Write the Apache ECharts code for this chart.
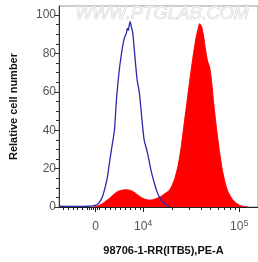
<!DOCTYPE html>
<html>
<head>
    <meta charset="utf-8">
    <script src="https://cdn.jsdelivr.net/npm/echarts@6.0.0/dist/echarts.min.js"></script>
    <style>
        html, body { margin: 0; padding: 0; background: #fff; }
        #main { width: 258px; height: 262px; }
    </style>
</head>
<body>
<div id="main"></div>
<script>
    // x is in display (logicle-like) units: 10^4 -> 4, 10^5 -> 5
    var xMin = 3.124, xMax = 5.195;
    var majorTicks = [3.505, 4, 5];
    var majorNames = ['0', '10^4', '10^5'];
    var minorTicks = [3.165, 3.216, 3.268, 3.309, 3.361, 3.423, 3.443, 3.464, 3.485, 3.526, 3.546,
        3.608, 3.660, 3.711, 3.763, 3.814, 3.866, 3.918, 3.969,
        4.301, 4.477, 4.602, 4.699, 4.778, 4.845, 4.903, 4.954];

    // 对照 (blue line)
    var ctrlX = [3.124, 3.237, 3.340, 3.423, 3.474, 3.515, 3.546, 3.577, 3.608, 3.629, 3.649, 3.670,
        3.701, 3.722, 3.753, 3.784, 3.804, 3.825, 3.835, 3.845, 3.856, 3.866, 3.876, 3.887, 3.897,
        3.918, 3.938, 3.959, 3.979, 3.990, 4.010, 4.041, 4.062, 4.082, 4.113, 4.144, 4.175, 4.206,
        4.237, 4.278];
    var ctrlY = [0.4, 0.3, 0.3, 0.4, 0.6, 1.2, 2.6, 5.5, 11, 16, 23, 30,
        40, 56, 72, 83, 88, 90.5, 93, 92, 95, 96.5, 94, 92, 88,
        76, 66, 60, 50, 44, 35, 29, 24, 19, 13, 8, 4.5, 2.5,
        1.2, 0.2];

    // 样本 (red fill)
    var sampX = [3.485, 3.526, 3.567, 3.608, 3.649, 3.691, 3.732, 3.773, 3.814, 3.856, 3.897, 3.938,
        3.979, 4.021, 4.062, 4.103, 4.144, 4.186, 4.227, 4.268, 4.299, 4.330, 4.361, 4.392, 4.423,
        4.454, 4.485, 4.515, 4.546, 4.567, 4.588, 4.608, 4.629, 4.649, 4.670, 4.691, 4.711, 4.732,
        4.763, 4.794, 4.825, 4.856, 4.887, 4.928, 4.969, 5.010, 5.052, 5.093];
    var sampY = [0, 0.6, 1.5, 3, 4.5, 6.5, 8, 8.7, 9, 8.8, 8, 6.5,
        5, 4, 3.6, 3.8, 4.5, 5.5, 7, 8.5, 11, 15, 21, 30, 42,
        54, 66, 77, 87, 92, 95.5, 94, 89, 82, 76, 73, 66, 55,
        41, 29, 19, 12, 7.5, 4, 2, 0.8, 0.2, 0];

    var yLabels = [0, 20, 40, 60, 80, 100];
    var yMinor = [5, 10, 15, 25, 30, 35, 45, 50, 55, 65, 70, 75, 85, 90, 95];

    function pairs(xs, ys) {
        return xs.map(function (x, i) { return [x, ys[i]]; });
    }

    var myChart = echarts.init(document.getElementById('main'));
    var grey = '#555';

    var option = {
        animation: false,
        grid: {
            left: 59, right: -4, top: 6, bottom: 55,
            show: true, borderColor: '#999', borderWidth: 1
        },
        graphic: [{
            type: 'text',
            left: 75, top: 5, z: 0,
            style: {
                text: 'WWW.PTGLAB.COM',
                font: 'italic 18px "Liberation Sans", Arial, sans-serif',
                fill: '#f2f2f2', stroke: '#c8c8c8', lineWidth: 0.7
            }
        }],
        xAxis: [{
            type: 'value', min: xMin, max: xMax, position: 'bottom',
            name: '98706-1-RR(ITB5),PE-A',
            nameLocation: 'middle', nameGap: 38,
            nameTextStyle: { fontWeight: 'bold', fontSize: 11, color: '#111',
                fontFamily: 'Liberation Sans', padding: [0, 0, 0, 10] },
            splitLine: { show: false },
            axisLine: { lineStyle: { color: '#222', width: 1 } },
            axisTick: { customValues: majorTicks, length: 5, lineStyle: { color: '#222' } },
            axisLabel: {
                customValues: majorTicks, margin: 12,
                formatter: function (v) {
                    var i = majorTicks.indexOf(v);
                    var t = majorNames[i];
                    if (t.indexOf('^') > 0) {
                        var p = t.split('^');
                        return '{b|' + p[0] + '}{s|' + p[1] + '}';
                    }
                    return '{b|' + t + '}';
                },
                rich: {
                    b: { fontSize: 12, color: grey, fontFamily: 'Liberation Sans', lineHeight: 16 },
                    s: { fontSize: 9, color: grey, fontFamily: 'Liberation Sans', verticalAlign: 'top', lineHeight: 16 }
                }
            }
        }, {
            type: 'value', min: xMin, max: xMax, position: 'bottom',
            splitLine: { show: false },
            axisLine: { show: false },
            axisTick: { customValues: minorTicks, length: 3, lineStyle: { color: '#222' } },
            axisLabel: { show: false }
        }],
        yAxis: [{
            type: 'value', min: 0, max: 104.7, position: 'left',
            name: 'Relative cell number',
            nameLocation: 'middle', nameGap: 40,
            nameTextStyle: { fontWeight: 'bold', fontSize: 11, color: '#111',
                fontFamily: 'Liberation Sans' },
            splitLine: { show: false },
            axisLine: { show: true, lineStyle: { color: '#333', width: 1 } },
            axisTick: { customValues: yLabels, length: 5, lineStyle: { color: '#333' } },
            axisLabel: { customValues: yLabels, fontSize: 12, color: grey, margin: 3,
                fontFamily: 'Liberation Sans' }
        }, {
            type: 'value', min: 0, max: 104.7, position: 'left',
            splitLine: { show: false },
            axisLine: { show: false },
            axisTick: { customValues: yMinor, length: 3, lineStyle: { color: '#333' } },
            axisLabel: { show: false }
        }],
        series: [{
            name: 'sample', type: 'line', xAxisIndex: 0, yAxisIndex: 0,
            data: pairs(sampX, sampY),
            showSymbol: false, smooth: 0.2,
            lineStyle: { color: '#ff0000', width: 1 },
            areaStyle: { color: '#ff0000', opacity: 1 },
            z: 3
        }, {
            name: 'control', type: 'line', xAxisIndex: 0, yAxisIndex: 0,
            data: pairs(ctrlX, ctrlY),
            showSymbol: false, smooth: 0.2,
            lineStyle: { color: '#2a2aa8', width: 1.3 },
            z: 4
        }]
    };
    myChart.setOption(option);
</script>
</body>
</html>
